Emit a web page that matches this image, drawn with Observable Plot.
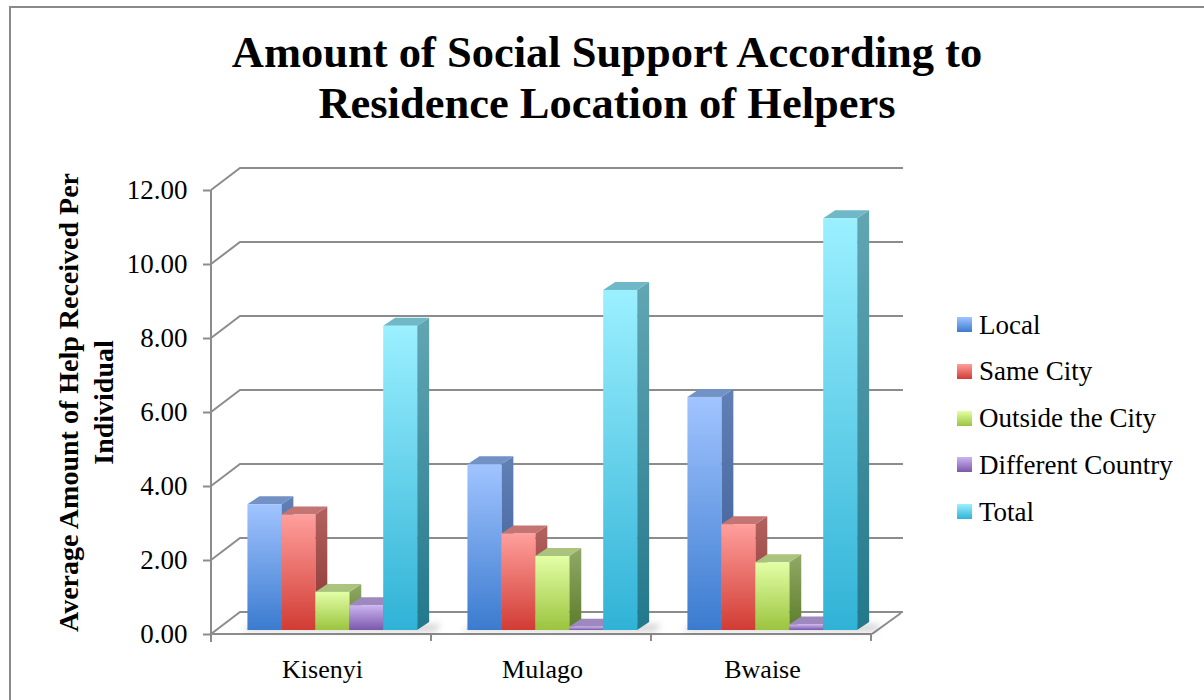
<!DOCTYPE html>
<html>
<head>
<meta charset="utf-8">
<script src="https://cdn.jsdelivr.net/npm/d3@7"></script>
<script src="https://cdn.jsdelivr.net/npm/@observablehq/plot@0.6"></script>
<style>
  body { margin: 0; background: #fff; }
  #wrap { position: relative; width: 1204px; height: 700px; overflow: hidden; font-family: "Liberation Serif", serif; background: #fff; }
  #border { position: absolute; left: 9px; top: 6px; width: 1400px; height: 900px; border-left: 2px solid #8a8a8a; border-top: 2px solid #8a8a8a; }
  #title { position: absolute; left: 0; top: 27.3px; width: 1214px; text-align: center; font-weight: bold; font-size: 44.5px; line-height: 51px; color: #000; }
  #chart { position: absolute; left: 0; top: 140px; }
  .lg-sq { position: absolute; width: 15px; height: 15px; }
  .lg-tx { position: absolute; font-size: 27px; line-height: 27px; white-space: nowrap; color: #000; }
</style>
</head>
<body>
<div id="wrap">
  <div id="border"></div>
  <div id="title">Amount of Social Support According to<br>Residence Location of Helpers</div>
  <div id="chart"></div>
  <div id="legend"></div>
</div>
<script>
// ---- data ----
const categories = ["Kisenyi", "Mulago", "Bwaise"];
const series = ["Local", "Same City", "Outside the City", "Different Country", "Total"];
const local = [3.40, 4.48, 6.30];
const sameCity = [3.12, 2.61, 2.86];
const outsideCity = [1.03, 2.00, 1.83];
const differentCountry = [0.67, 0.09, 0.15];
const total = [8.22, 9.19, 11.13];
const yTicks = [0, 2, 4, 6, 8, 10, 12];
const yTitle = "Average Amount of Help Received Per\nIndividual";

// ---- styles ----
const frontTop = ["#a1c4ff", "#ff9f9c", "#e3ffa6", "#ccb4f1", "#9bf0ff"];
const frontBot = ["#3b7bcf", "#d13c34", "#9bc43f", "#7a58ab", "#30b2d6"];
const sideTop  = ["#6080b6", "#b26260", "#90aa66", "#8a72ad", "#62a6b3"];
const sideBot  = ["#3a5b94", "#8a3532", "#5d7c2b", "#5b4786", "#22788b"];
const topFace  = ["#7292c6", "#c47472", "#aac47e", "#9e89bf", "#6fb8c7"];

const valuesBySeries = [local, sameCity, outsideCity, differentCountry, total];
const rows = [];
categories.forEach((c, i) => series.forEach((s, j) => rows.push({category: c, series: s, si: j, value: valuesBySeries[j][i]})));

const gridColor = "#8c8c8c";
const depthX = 29, depthY = -22;     // wall depth (style)
const barDX = 12, barDY = -8;         // bar depth (style)
const barLift = 4;                    // bars sit slightly behind the front edge
const barStart = 0.161, barWidth = 0.1543; // fractions of band

function renderWall(index, scales, values, dims) {
  const g = d3.create("svg:g").attr("fill", "none").attr("stroke", gridColor).attr("stroke-width", 2);
  const x0 = dims.marginLeft, xR = dims.width - dims.marginRight;
  const y0 = scales.y(0);
  for (const v of yTicks) {
    const y = scales.y(v);
    g.append("path").attr("d", `M${x0},${y}l${depthX},${depthY}H${xR + depthX + 2}`);
  }
  g.append("path").attr("d", `M${xR},${y0}l${depthX},${depthY + 1}`);
  g.append("path").attr("d", `M${x0},${y0}H${xR}`);
  g.append("path").attr("d", `M${x0},${scales.y(yTicks[yTicks.length - 1])}V${y0 + 8}`);
  const bw = scales.x(categories[1]) - scales.x(categories[0]);
  for (let k = 0; k <= categories.length; k++) {
    const x = x0 + k * bw;
    g.append("path").attr("d", `M${x},${y0}v7`);
  }
  return g.node();
}

function renderBars(index, scales, values, dims) {
  const g = d3.create("svg:g");
  const defs = g.append("defs");
  series.forEach((s, j) => {
    const lf = defs.append("linearGradient").attr("id", "front" + j).attr("x1", 0).attr("y1", 0).attr("x2", 0).attr("y2", 1);
    lf.append("stop").attr("offset", "0%").attr("stop-color", frontTop[j]);
    lf.append("stop").attr("offset", "100%").attr("stop-color", frontBot[j]);
    const ls = defs.append("linearGradient").attr("id", "side" + j).attr("x1", 0).attr("y1", 0).attr("x2", 0).attr("y2", 1);
    ls.append("stop").attr("offset", "0%").attr("stop-color", sideTop[j]);
    ls.append("stop").attr("offset", "100%").attr("stop-color", sideBot[j]);
  });
  const f = defs.append("filter").attr("id", "shadowBlur").attr("x", "-20%").attr("y", "-200%").attr("width", "140%").attr("height", "500%");
  f.append("feGaussianBlur").attr("stdDeviation", 3);
  const bw = scales.x(categories[1]) - scales.x(categories[0]);
  const yBot = scales.y(0) - barLift;
  for (const c of categories) {
    const xs = scales.x(c) + bw * barStart;
    const xe = xs + series.length * bw * barWidth;
    g.append("path").attr("d", `M${xs - 6},${yBot + 1}L${xe + 18},${yBot + 2}L${xe + 24},${yBot - 6}L${xs + 6},${yBot - 6}Z`)
      .attr("fill", "#000").attr("fill-opacity", 0.16).attr("filter", "url(#shadowBlur)");
  }
  for (const i of index) {
    const d = rows[i];
    const j = d.si;
    const w = bw * barWidth;
    const x0 = scales.x(d.category) + bw * barStart + j * w;
    const yTop = scales.y(d.value) - barLift;
    g.append("path").attr("d", `M${x0 + w},${yTop}l${barDX},${barDY}V${yBot + barDY}l${-barDX},${-barDY}Z`).attr("fill", `url(#side${j})`);
    g.append("path").attr("d", `M${x0},${yTop}l${barDX},${barDY}h${w}l${-barDX},${-barDY}Z`).attr("fill", topFace[j]);
    g.append("rect").attr("x", x0).attr("y", yTop).attr("width", w).attr("height", Math.max(0, yBot - yTop)).attr("fill", `url(#front${j})`);
  }
  return g.node();
}

const chart = Plot.plot({
  width: 940,
  height: 560,
  marginLeft: 211,
  marginRight: 68,
  marginTop: 50,
  marginBottom: 66,
  style: {fontFamily: "Liberation Serif", fontSize: "26px", color: "#000", background: "transparent", overflow: "visible"},
  x: {type: "band", domain: categories, padding: 0},
  y: {domain: [0, 12]},
  marks: [
    Plot.ruleY(yTicks, {y: d => d, render: renderWall}),
    Plot.barY(rows, {x: "category", y1: 0, y2: "value", render: renderBars}),
    Plot.axisY({ticks: yTicks, tickFormat: d => d.toFixed(2), tickSize: 8, tickPadding: 16, stroke: gridColor, strokeWidth: 2, fill: "#000", fontSize: 27, label: null}),
    Plot.axisX({tickSize: 0, tickPadding: 25, fontSize: 26, label: null, fill: "#000"}),
    Plot.text([yTitle], {text: d => d, frameAnchor: "left", textAnchor: "middle", lineAnchor: "middle", rotate: -90, dx: -127, dy: -10, fontWeight: "bold", fontSize: 28, lineHeight: 1.25, fill: "#000"})
  ]
});
document.getElementById("chart").appendChild(chart);

// ---- legend ----
const lg = document.getElementById("legend");
series.forEach((s, j) => {
  const sq = document.createElement("div");
  sq.className = "lg-sq";
  sq.style.left = "957px";
  sq.style.top = (317 + 46.8 * j) + "px";
  sq.style.background = `linear-gradient(${frontTop[j]}, ${frontBot[j]})`;
  lg.appendChild(sq);
  const tx = document.createElement("div");
  tx.className = "lg-tx";
  tx.style.left = "979px";
  tx.style.top = (311.5 + 46.8 * j) + "px";
  tx.textContent = s;
  lg.appendChild(tx);
});
</script>
</body>
</html>
